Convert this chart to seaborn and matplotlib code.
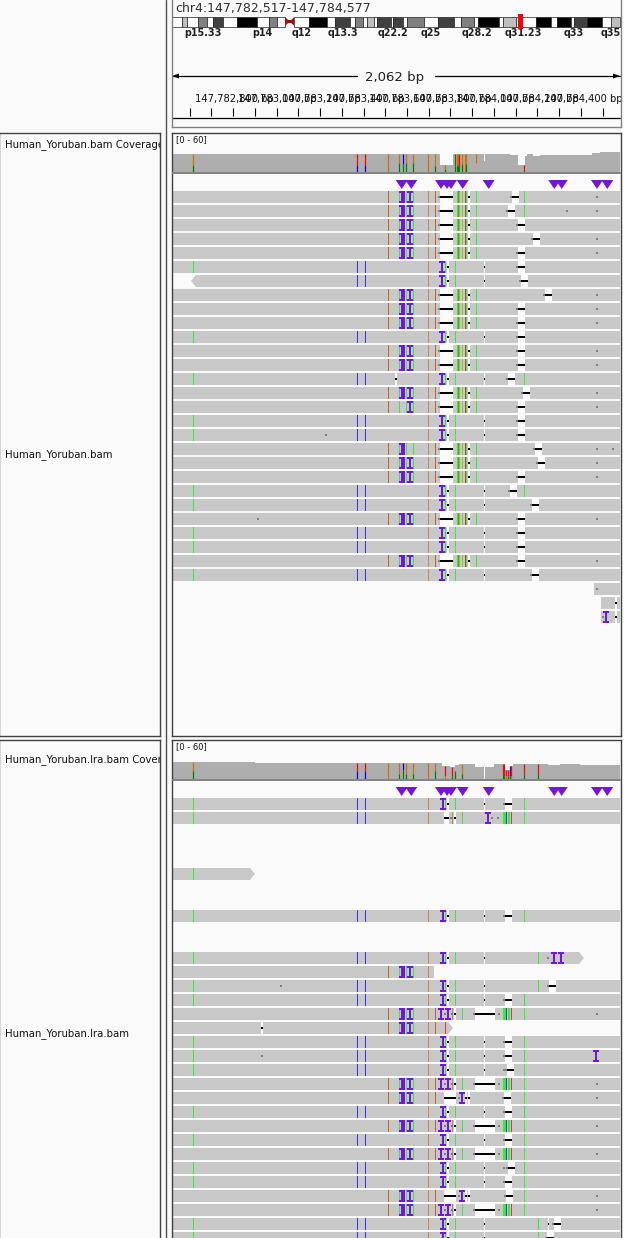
import numpy as np
import matplotlib
matplotlib.use("Agg")
import matplotlib.pyplot as plt
from matplotlib.patches import Rectangle, Polygon
import seaborn as sns

sns.set_theme(style="white")
plt.rcParams['font.family'] = ['DejaVu Sans']

# ---------- data (genome columns: one column = one screen column of about 4.6 bp) ----------
LOCUS = "chr4:147,782,517-147,784,577"
SPAN_LABEL = "2,062 bp"
TICK_COLS = [190, 211, 233, 255, 277, 298, 320, 342, 364, 385, 407, 429, 450, 472, 494, 516, 537, 559, 581, 603]
TICK_LABEL_COLS = [234, 277, 321, 365, 408, 452, 495, 539, 583]
TICK_LABELS = ["147,782,800 bp", "147,783,000 bp", "147,783,200 bp", "147,783,400 bp", "147,783,600 bp",
               "147,783,800 bp", "147,784,000 bp", "147,784,200 bp", "147,784,400 bp"]

BAND_EDGES = [172.3, 182.3, 186.7, 198.3, 207.3, 213.3, 222.7, 237.3, 256.7, 269.3, 277.3, 285, 294.3, 309.3, 326.7,
              335.3, 350, 355.3, 363.3, 367.3, 374.3, 377.3, 390.7, 393.3, 402.7, 407.3, 423.7, 438.3, 454.3, 461.3,
              473.7, 478.3, 499, 503.3, 515.7, 536.3, 551, 557, 571, 574.3, 585.7, 587, 602, 610.7, 620]
BAND_STAIN = [255, 190, 255, 128, 255, 64, 255, 0, 255, 128, 255, -1, 255, 0, 255,
              64, 255, 128, 255, 190, 255, 64, 255, 64, 255, 128, 255, 64, 255, 128,
              255, 0, 255, 190, 255, 0, 255, 0, 255, 64, 255, 0, 255, 190]
BAND_LABELS = ["p15.33", "p14", "q12", "q13.3", "q22.2", "q25", "q28.2", "q31.23", "q33", "q35"]
BAND_LABEL_COLS = [202.7, 262.7, 302, 342.7, 392.7, 431, 476.7, 523, 573.3, 611]
VIEW_BAND = [518.3, 523]

INS_COLS = [401.7, 411.3, 441, 447, 451, 462.7, 488.7, 554.3, 561.7, 597, 607.3]

# coverage depth per column range, track range 0-60
COV1_EDGES = [172, 440, 453, 484, 485, 510, 515, 518, 525, 527, 533, 540, 592, 600, 620]
COV1_DEPTH = [28.5, 11, 28.5, 17, 28.5, 26.5, 26.5, 11, 25, 28, 26, 27.5, 29.5, 31.5]
COV2_EDGES = [172, 255, 442, 450, 455, 459, 475, 484, 485, 494, 505, 510, 513, 548, 560, 580, 620]
COV2_DEPTH = [26.8, 25.3, 20.5, 19, 22, 23.5, 19, 0, 19, 23.5, 14, 20.5, 23.5, 22, 23.5, 22]

COV1_BAR_COLS = [193, 357, 365, 388, 399, 403, 406, 413, 428, 435, 445, 455, 457, 458, 459, 462, 465, 466, 476, 524]
COV1_BAR_TOP = list("orroobooloogooroooor")
COV1_BAR_LOW = list("gbbogggglgggggggogsg")
COV1_BAR_SPLIT = [11, 11, 11, 11, 14, 13, 14, 14, 0, 9, 5, 9, 9, 11, 9, 12, 10, 12, 14, 3]
COV2_BAR_COLS = [193, 357, 365, 388, 399, 403, 406, 413, 428, 435, 445, 452, 455, 462, 503, 504, 506, 508, 510, 511, 524, 538]
COV2_BAR_TOP = list("orrooboooorrsorrrrbrrr")
COV2_BAR_LOW = list("gbboggggogogggggoggogg")
COV2_BAR_SPLIT = [12, 12, 12, 12, 8, 14, 8, 8, 0, 12, 5, 5, 12, 8, 8, 5, 5, 5, 5, 5, 8, 8]

# read templates: (kind, column[, end column])
LITE = [('o', 388.5), ('g', 399.5), ('I', 402), ('B', 404), ('g', 406.5), ('I', 410), ('g', 413.5)]
A_TAIL = [('l', 428.5), ('o', 435.5), ('n', 439), ('D', 440, 453), ('g', 457.5), ('o', 458.5), ('g', 459.5),
          ('g', 462.5), ('r', 465), ('g', 466), ('w', 469), ('g', 476.5)]
TEMPLATES = {
    'A': LITE + A_TAIL + [('n', 597)],
    'a': LITE + A_TAIL,
    'X': [f for f in LITE if f[1] not in (402, 404)] + A_TAIL + [('n', 597)],
    'Y': [f for f in LITE if f[1] != 410] + A_TAIL + [('n', 597)],
    'B': [('g', 193.5), ('b', 357.5), ('b', 365.5), ('l', 428.5), ('I', 441.5), ('g', 445), ('w', 448),
          ('g', 455.5), ('w', 484.5)],
    'E': [('g', 193.5), ('b', 357.5), ('b', 365.5), ('l', 428.5), ('I', 443), ('g', 445), ('w', 448),
          ('g', 455.5), ('w', 484.5), ('n', 504), ('g', 524.5)],
    'F': [('g', 193.5), ('b', 357.5), ('b', 365.5), ('l', 428.5), ('I', 443), ('g', 445), ('w', 448),
          ('g', 455.5), ('w', 484.5), ('g', 538.5)],
    'G': [('g', 193.5), ('b', 357.5), ('b', 365.5), ('l', 428.5), ('D', 444, 449), ('l', 452), ('n', 451),
          ('w', 455), ('g', 462.5), ('I', 488), ('n', 492), ('n', 498), ('G', 503, 506), ('b', 506.5),
          ('G', 508, 510), ('r', 511.5), ('g', 524.5)],
    'H': LITE + [('l', 428.5)],
    'J': LITE + [('l', 428.5), ('o', 435.5), ('r', 445)],
    'C': LITE + [('l', 428.5), ('o', 435.5), ('I', 441), ('n', 444.5), ('I', 448), ('l', 452), ('n', 451.5),
                 ('w', 455), ('g', 462.5), ('n', 474), ('D', 475, 495), ('n', 499), ('G', 503, 506),
                 ('b', 506.5), ('G', 508, 510), ('r', 511.5), ('g', 524.5), ('n', 597)],
    'D': LITE + [('l', 428.5), ('o', 435.5), ('D', 443.5, 455.5), ('n', 459), ('I', 462), ('w', 466), ('w', 469),
                 ('g', 524.5), ('n', 597)],
}

P1_TEMPLATE = list("AAaAABBAAABAABAXBBYAABBABBAB")
P1_GAP_START = [512, 508, 518, 533, 518, 518, 521, 545, 518, 518, 518, 518, 518, 508, 523, 518, 518, 518, 535, 538,
                518, 510, 532, 518, 518, 518, 518, 532]
P1_GAP_LEN = 7
P1_EXTRAS = {0: [('g', 524.5)], 1: [('g', 524.5), ('n', 567)], 13: [('g', 524.5), ('w', 396)], 17: [('n', 326)],
             18: [('n', 613)], 21: [('g', 524.5), ('n', 509)], 23: [('n', 258)]}
P1_START = {6: 196}
P1_ARROW_LEFT = [6]
P1_SHORT_ROWS = [28, 29, 30]
P1_SHORT_START = [594, 601, 601]
P1_SHORT_FEATS = [[('n', 597)], [('w', 616)], [('I', 606), ('n', 603), ('w', 616)]]

P2_ROWS = [0, 1, 5, 8, 11, 12, 13, 14, 15, 16, 17, 18, 19, 20, 21, 22, 23, 24, 25, 26, 27, 28, 29, 30, 31]
P2_TEMPLATE = list("EGFEFHFECJEEECDECECEEDCFF")
P2_GAP_START = [505, None, None, 505, None, None, 549, 505, None, None, 505, 505, 507, None, 504, 505, None, 505,
                None, 508, 505, 506, None, 554, 547]
P2_END = {5: 250, 11: 579, 12: 434, 16: 448}
P2_ARROW_RIGHT = [5, 11, 16]
P2_EXTRAS = {11: [('n', 548), ('I', 554), ('I', 561)], 13: [('n', 281), ('n', 548)], 16: [('w', 262)],
             18: [('n', 262), ('I', 596)], 30: [('w', 548.5)]}

# ---------- styling ----------
BG = '#FAFAFA'
READ = '#C8C8C8'
COV = '#AEAEAE'
PURPLE = '#7416D8'
FRAME = '#404040'
MARK = {'g': '#33EE33', 'b': '#3333FF', 'o': '#C8661E', 'l': '#C28A4A', 'r': '#F03030', 's': COV}
COV_MARK = {'g': '#008000', 'b': '#0000FF', 'o': '#D17105', 'l': '#D17105', 'r': '#FF0000', 's': COV}
ROW_H, ROW_PITCH = 12, 14
P1_TOP, P2_TOP = 191, 798
W, H = 640, 1238

fig = plt.figure(figsize=(W / 100, H / 100), dpi=100, facecolor=BG)


def px_axes(x0, y0, x1, y1, frame=None):
    ax = fig.add_axes([x0 / W, 1 - y1 / H, (x1 - x0) / W, (y1 - y0) / H])
    ax.set_xlim(x0, x1)
    ax.set_ylim(y1, y0)
    ax.set_xticks([])
    ax.set_yticks([])
    ax.patch.set_alpha(0)
    for s in ax.spines.values():
        s.set_visible(frame is not None)
        if frame:
            s.set_color(frame)
            s.set_linewidth(1)
    return ax


# page furniture
page = px_axes(0, 0, W, H)
page.add_patch(Rectangle((621, 0), 19, H, fc='white', ec='none'))
page.plot([165.5, 165.5], [0, H], color='#505050', lw=1)

# ---------- header ----------
hd = px_axes(171.5, -2, 620.5, 127, frame='#808080')
hd.text(175, 8, LOCUS, fontsize=9, color='#303030', va='center', ha='left', clip_on=True)
for i, stain in enumerate(BAND_STAIN):
    a, b = BAND_EDGES[i], BAND_EDGES[i + 1]
    if stain < 0:
        hd.add_patch(Polygon([[a, 17], [b, 26], [b, 17], [a, 26]], fc='#A01010', ec='none'))
        hd.add_patch(Rectangle((a + 3, 20), b - a - 6, 3, fc='#A01010', ec='none'))
    else:
        g = stain / 255
        hd.add_patch(Rectangle((a, 16.5), b - a, 10, fc=(g, g, g), ec='#202020', lw=0.5))
hd.add_patch(Rectangle((VIEW_BAND[0], 14), VIEW_BAND[1] - VIEW_BAND[0], 15, fc='#FF0000', ec='none', zorder=5))
for c, t in zip(BAND_LABEL_COLS, BAND_LABELS):
    hd.text(c, 33, t, fontsize=6.9, fontweight='bold', color='#202020', ha='center', va='center', clip_on=True)
hd.plot([172, 357], [76, 76], color='black', lw=0.9)
hd.plot([435, 620], [76, 76], color='black', lw=0.9)
hd.add_patch(Polygon([[172, 76], [179, 73.5], [179, 78.5]], fc='black', ec='none'))
hd.add_patch(Polygon([[620, 76], [613, 73.5], [613, 78.5]], fc='black', ec='none'))
hd.text(395, 77, SPAN_LABEL, fontsize=9.5, color='#202020', ha='center', va='center')
for c, t in zip(TICK_LABEL_COLS, TICK_LABELS):
    hd.text(c, 99, t, fontsize=7.2, color='#101010', ha='center', va='center', clip_on=True)
hd.vlines(TICK_COLS, 107.5, 115.5, color='black', lw=0.8)
hd.plot([172, 620], [117.5, 117.5], color='black', lw=0.9)


# ---------- name panels ----------
def name_panel(y0, y1, cov_name, cov_y, bam_name, bam_y):
    ax = px_axes(-1, y0, 159.5, y1, frame=FRAME)
    ax.text(5, cov_y, cov_name, fontsize=7.3, color='#101010', va='center', ha='left', clip_on=True)
    ax.text(5, bam_y, bam_name, fontsize=7.3, color='#101010', va='center', ha='left', clip_on=True)


name_panel(133, 736, "Human_Yoruban.bam Coverage", 145, "Human_Yoruban.bam", 455)
name_panel(740, 1240, "Human_Yoruban.lra.bam Coverage", 760, "Human_Yoruban.lra.bam", 1034)


# ---------- coverage ----------
def coverage(y1, edges, depth, cols, top, low, split):
    ax = px_axes(172, y1 - 38, 620, y1)
    mids = [(a + b) / 2 for a, b in zip(edges[:-1], edges[1:])]
    sns.histplot(x=mids, weights=depth, bins=list(edges), element='step', fill=True, color=COV, alpha=1, linewidth=0, ax=ax)
    ax.set_xlim(172, 620)
    ax.set_ylim(0, 60)
    ax.set_xlabel('')
    ax.set_ylabel('')
    ax.set_xticks([])
    ax.set_yticks([])
    for c, t, l, s in zip(cols, top, low, split):
        d = depth[int(np.clip(np.searchsorted(edges, c, side='right') - 1, 0, len(depth) - 1))]
        ax.vlines(c, s, d, color=COV_MARK[t], lw=0.9)
        if s > 0:
            ax.vlines(c, 0, s, color=COV_MARK[l], lw=0.9)


# ---------- reads ----------
def draw_feats(ax, top, feats, x0, x1):
    mid = top + ROW_H / 2
    # white openings first
    for f in feats:
        if not x0 <= f[1] <= x1:
            continue
        if f[0] == 'D':
            ax.add_patch(Rectangle((f[1], top - 1), f[2] - f[1], ROW_H + 2, fc=BG, ec='none', zorder=3))
        elif f[0] == 'w':
            ax.add_patch(Rectangle((f[1] - 0.8, top - 1), 1.6, ROW_H + 2, fc=BG, ec='none', zorder=3))
    for f in feats:
        k, c = f[0], f[1]
        if not x0 <= c <= x1:
            continue
        if k in MARK:
            ax.add_patch(Rectangle((c - 0.5, top), 1, ROW_H, fc=MARK[k], ec='none', zorder=4))
        elif k == 'G':
            ax.add_patch(Rectangle((c, top), f[2] - c, ROW_H, fc=MARK['g'], ec='none', zorder=4))
        elif k == 'B':
            ax.add_patch(Rectangle((c - 0.7, top), 1.4, ROW_H, fc=PURPLE, ec='none', zorder=5))
        elif k == 'I':
            ax.add_patch(Rectangle((c - 1, top), 2, ROW_H, fc=PURPLE, ec='none', zorder=5))
            ax.add_patch(Rectangle((c - 3, top), 6, 2, fc=PURPLE, ec='none', zorder=5))
            ax.add_patch(Rectangle((c - 3, top + ROW_H - 2), 6, 2, fc=PURPLE, ec='none', zorder=5))
        elif k == 'n':
            ax.add_patch(Rectangle((c - 1, mid - 1), 2, 2, fc='#808080', ec='none', zorder=4))
        elif k == 'w':
            ax.add_patch(Rectangle((c - 0.7, mid - 0.8), 1.4, 1.6, fc='black', ec='none', zorder=4))
        elif k == 'D':
            ax.add_patch(Rectangle((c, mid - 1), f[2] - c, 2, fc='black', ec='none', zorder=4))


def draw_read(ax, top, x0, x1, feats, arrow_left=False, arrow_right=False):
    ax.add_patch(Rectangle((x0, top), x1 - x0, ROW_H, fc=READ, ec='none', zorder=2))
    if arrow_left:
        ax.add_patch(Polygon([[x0, top], [x0 - 5, top + ROW_H / 2], [x0, top + ROW_H]], fc=READ, ec='none', zorder=2))
    if arrow_right:
        ax.add_patch(Polygon([[x1, top], [x1 + 5, top + ROW_H / 2], [x1, top + ROW_H]], fc=READ, ec='none', zorder=2))
    draw_feats(ax, top, feats, x0, x1)


def triangles(ax, y):
    for c in INS_COLS:
        ax.add_patch(Polygon([[c - 6, y], [c + 6, y], [c, y + 9]], fc=PURPLE, ec='none', zorder=5))


# panel 1
coverage(172, COV1_EDGES, COV1_DEPTH, COV1_BAR_COLS, COV1_BAR_TOP, COV1_BAR_LOW, COV1_BAR_SPLIT)
p1 = px_axes(171.5, 133, 620.5, 736, frame=FRAME)
p1.text(176, 140, "[0 - 60]", fontsize=6, color='#101010', va='center', ha='left')
p1.plot([172, 620], [173, 173], color='#808080', lw=1.4, zorder=6)
triangles(p1, 180)
for i, (t, gs) in enumerate(zip(P1_TEMPLATE, P1_GAP_START)):
    top = P1_TOP + i * ROW_PITCH
    feats = TEMPLATES[t] + [('n', gs - 1), ('D', gs, gs + P1_GAP_LEN)] + P1_EXTRAS.get(i, [])
    draw_read(p1, top, P1_START.get(i, 172), 620, feats, arrow_left=i in P1_ARROW_LEFT)
for r, s, fs in zip(P1_SHORT_ROWS, P1_SHORT_START, P1_SHORT_FEATS):
    draw_read(p1, P1_TOP + r * ROW_PITCH, s, 620, fs)

# panel 2
coverage(779, COV2_EDGES, COV2_DEPTH, COV2_BAR_COLS, COV2_BAR_TOP, COV2_BAR_LOW, COV2_BAR_SPLIT)
p2 = px_axes(171.5, 740, 620.5, 1242, frame=FRAME)
p2.text(176, 747, "[0 - 60]", fontsize=6, color='#101010', va='center', ha='left')
p2.plot([172, 620], [780, 780], color='#808080', lw=1.4, zorder=6)
triangles(p2, 787)
for r, t, gs in zip(P2_ROWS, P2_TEMPLATE, P2_GAP_START):
    top = P2_TOP + r * ROW_PITCH
    feats = list(TEMPLATES[t]) + P2_EXTRAS.get(r, [])
    if gs is not None:
        feats += [('n', gs - 1), ('D', gs, gs + 7)]
    draw_read(p2, top, 172, P2_END.get(r, 620), feats, arrow_right=r in P2_ARROW_RIGHT)

fig.savefig("out.png", dpi=100, facecolor=BG)
